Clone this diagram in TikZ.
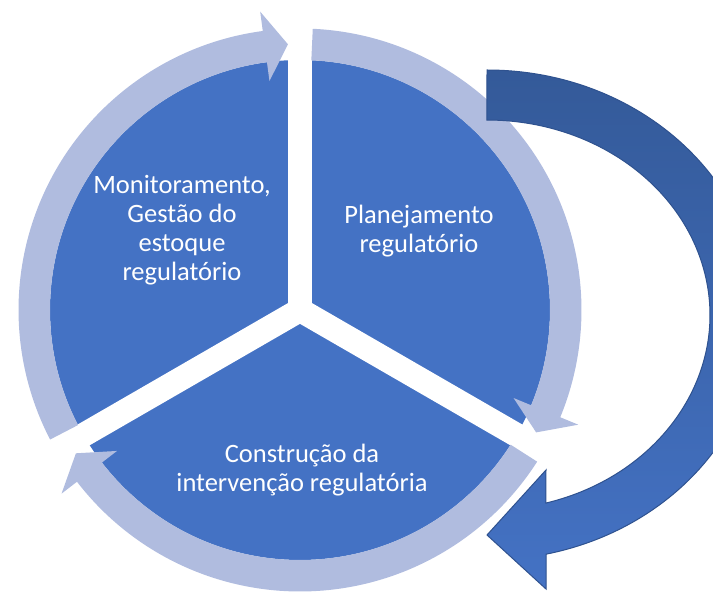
\documentclass[tikz,border=0pt]{standalone}
\usepackage{fontspec}
\setmainfont{Carlito}
\definecolor{sectorblue}{HTML}{4472C4}
\definecolor{ringblue}{HTML}{B0BCDF}
\definecolor{darkblue}{HTML}{345A99}
\definecolor{edgeblue}{HTML}{2F528F}
\tikzset{
  ringarrow/.style={fill=ringblue},
  gapline/.style={white,line width=24pt},
  sectortext/.style={text=white,align=center,font=\fontsize{26.5}{29}\selectfont}
}
\begin{document}
\begin{tikzpicture}[x=1pt,y=1pt]
        \useasboundingbox (0,0) rectangle (713,595);
        \coordinate (c) at (300,285);
        \fill[sectorblue] (c) circle[radius=250];
        \draw[gapline] (c) -- ++(90:292);
        \draw[gapline] (c) -- ++(210:292);
        \draw[gapline] (c) -- ++(330:292);
        % light circular arrows, clockwise
        \foreach \s/\t in {87.4/-27.4, -32.6/-147.4, 207.4/92.6}
          \fill[ringarrow,shift={(c)}] (\s:250) arc[start angle=\s,end angle=\t+5,radius=250]
            -- (\t+5:231) -- (\t:266) -- (\t+5:301) -- (\t+5:281.5)
            arc[start angle=\t+5,end angle=\s,radius=281.5] -- cycle;
        \node[sectortext] (monit) at (182,365) {Monitoramento,\\Gestão do\\estoque\\regulatório};
        \node[sectortext] (plan) at (419,364) {Planejamento\\regulatório};
        \node[sectortext] (constr) at (302,125) {Construção da\\intervenção regulatória};
        % big return arrow
        \draw[edgeblue,line width=1pt,top color=darkblue,bottom color=sectorblue]
          (487,525) arc[start angle=90,end angle=-77.5,x radius=273,y radius=245]
          -- (546,6) -- (487,60) -- (546,125) -- (545.8,91.9)
          arc[start angle=-74.7,end angle=90,x radius=223,y radius=195] -- cycle;
\end{tikzpicture}
\end{document}
